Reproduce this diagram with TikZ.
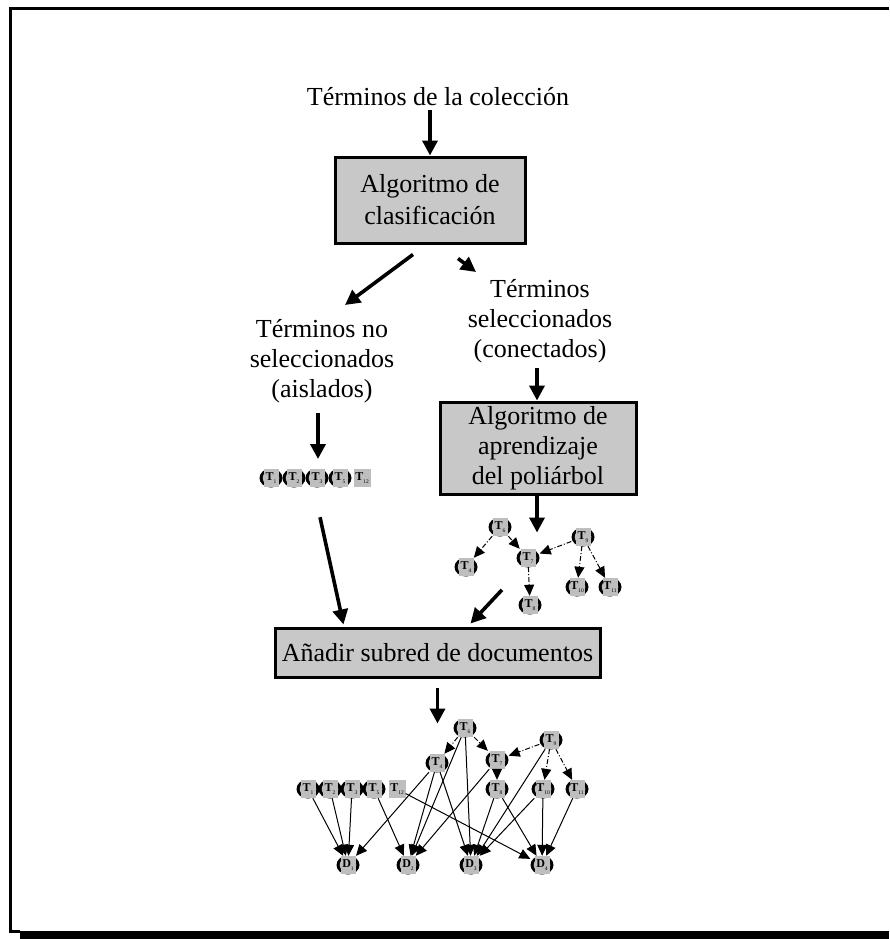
\documentclass[tikz,border=0pt]{standalone}
\usepackage{fontspec}
\setmainfont{Liberation Serif}
\usetikzlibrary{arrows.meta,calc}
\definecolor{boxgray}{RGB}{200,200,200}
\definecolor{nodegray}{RGB}{190,190,190}
\newcommand\vlab[2]{{\fontsize{12}{12}\selectfont\textbf{#1}}\raisebox{-3pt}{\fontsize{5.5}{5.5}\selectfont #2}}
\begin{document}
\begin{tikzpicture}[x=1pt,y=-1pt,
  captext/.style={font=\fontsize{26}{30}\selectfont, align=center, inner sep=0pt},
  procbox/.style={draw, line width=3pt, fill=boxgray, align=center, inner sep=0pt,
    font=\fontsize{26}{32}\selectfont},
  bigarrow/.style={line width=3.6pt, -{Triangle[length=15pt,width=15pt]}},
  docarc/.style={line width=1pt, -{Triangle[length=11pt,width=10pt]}},
  dagarc/.style={line width=1pt, dash pattern=on 5pt off 2pt on 1pt off 2pt,
    -{Triangle[length=11pt,width=10pt]}},
  vnode/.style={rectangle, minimum width=23pt, minimum height=18pt, inner sep=0pt,
    path picture={
      \fill[black] (path picture bounding box.center) ellipse [x radius=11.5pt, y radius=9.5pt];
      \fill[nodegray] (path picture bounding box.center) ellipse [x radius=8.3pt, y radius=7.5pt];
      \fill[nodegray] ($(path picture bounding box.center)+(-7.5pt,-9pt)$)
        rectangle ($(path picture bounding box.center)+(7.5pt,9pt)$);}},
  sqnode/.style={rectangle, fill=nodegray, minimum width=17pt, minimum height=18pt, inner sep=0pt},
]
\useasboundingbox (0,0) rectangle (889,939);

% page frame with its shadow
\draw[line width=3pt] (889,8.5) -- (10.5,8.5) -- (10.5,931.5) -- (20,931.5);
\fill[black] (20,931) rectangle (889,939);

% flow of the method
\node[captext] (title) at (438,97) {Términos de la colección};
\node[procbox, minimum width=190pt, minimum height=86pt] (box1) at (430,200)
  {Algoritmo de\\clasificación};
\node[captext] (nosel) at (322,361) {Términos no\\seleccionados\\(aislados)};
\node[captext] (sel) at (540,321) {Términos\\seleccionados\\(conectados)};
\node[procbox, minimum width=196pt, minimum height=92pt, font=\fontsize{26}{30}\selectfont]
  (box2) at (538,448) {Algoritmo de\\aprendizaje\\del poliárbol};
\node[procbox, minimum width=325pt, minimum height=49pt] (box3) at (437.5,652.5)
  {Añadir subred de documentos};

\draw[bigarrow] (box1.north |- title.south) ++(0,4) -- (box1.north);
\draw[bigarrow] ($(box1.south)+(-17,10)$) -- ($(nosel.north)+(23,-14)$);
\draw[bigarrow] ($(box1.south)+(28,14)$) -- ($(sel.north)+(-64,-7)$);
\draw[bigarrow] ($(nosel.south)+(-4,10)$) -- ++(0,46);
\draw[bigarrow] ($(sel.south)+(-3,5)$) -- (box2.north -| {$(sel.south)+(-3,0)$});
\draw[bigarrow] (box2.south -| {$(sel.south)+(-3,0)$}) -- ++(0,37);

% isolated terms
\node[vnode] (a1) at (271,478) {\vlab{T}{1}};
\node[vnode] (a2) at (294,478) {\vlab{T}{2}};
\node[vnode] (a3) at (317,478) {\vlab{T}{3}};
\node[vnode] (a5) at (340,478) {\vlab{T}{5}};
\node[sqnode] (a12) at (362,478) {\vlab{T}{12}};

% learned polytree
\node[vnode] (p6) at (500,527) {\vlab{T}{6}};
\node[vnode] (p4) at (466,567) {\vlab{T}{4}};
\node[vnode] (p7) at (528,558) {\vlab{T}{7}};
\node[vnode] (p9) at (583,537) {\vlab{T}{9}};
\node[vnode] (p10) at (577,587) {\vlab{T}{10}};
\node[vnode] (p11) at (610,587) {\vlab{T}{11}};
\node[vnode] (p8) at (530,605) {\vlab{T}{8}};
\draw[dagarc] (p6) -- (p4);
\draw[dagarc] (p6) -- (p7);
\draw[dagarc] (p9) -- (p7);
\draw[dagarc] (p9) -- (p10);
\draw[dagarc] (p9) -- (p11);
\draw[dagarc] (p7) -- (p8);

\draw[bigarrow] ($(a3.south)+(3,30)$) -- ($(box3.north)+(-94,-2)$);
\draw[bigarrow] ($(p8.north)+(-28,-6)$) -- ($(box3.north)+(33,-3)$);
\draw[bigarrow] ($(box3.south)+(0,9)$) -- ++(0,36);

% polytree with the document subnetwork
\node[vnode] (t1) at (308,789) {\vlab{T}{1}};
\node[vnode] (t2) at (330,789) {\vlab{T}{2}};
\node[vnode] (t3) at (352,789) {\vlab{T}{3}};
\node[vnode] (t5) at (374,789) {\vlab{T}{5}};
\node[sqnode] (t12) at (397,789) {\vlab{T}{12}};
\node[vnode] (t6) at (465,728) {\vlab{T}{6}};
\node[vnode] (t4) at (437,763) {\vlab{T}{4}};
\node[vnode] (t7) at (497,760) {\vlab{T}{7}};
\node[vnode] (t9) at (551,740) {\vlab{T}{9}};
\node[vnode] (t8) at (497,789) {\vlab{T}{8}};
\node[vnode] (t10) at (543,789) {\vlab{T}{10}};
\node[vnode] (t11) at (577,789) {\vlab{T}{11}};
\node[vnode] (d1) at (348,865) {\vlab{D}{1}};
\node[vnode] (d2) at (408,865) {\vlab{D}{2}};
\node[vnode] (d3) at (471,865) {\vlab{D}{3}};
\node[vnode] (d4) at (542,865) {\vlab{D}{4}};

\draw[dagarc] (t6) -- (t4);
\draw[dagarc] (t6) -- (t7);
\draw[dagarc] (t9) -- (t7);
\draw[dagarc] (t9) -- (t10);
\draw[dagarc] (t9) -- (t11);
\draw[dagarc] (t7) -- (t8);

\foreach \s/\d in {t1/d1, t2/d1, t3/d1, t4/d1,
                   t5/d2, t4/d2, t6/d2, t7/d2,
                   t4/d3, t6/d3, t8/d3, t9/d3, t10/d3,
                   t12/d4, t8/d4, t10/d4, t11/d4}
  \draw[docarc] (\s) -- (\d);
\end{tikzpicture}
\end{document}
